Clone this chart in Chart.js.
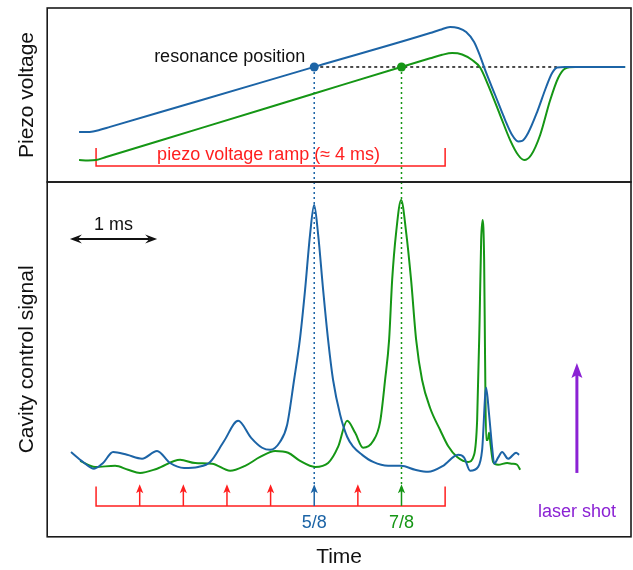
<!DOCTYPE html>
<html>
<head>
<meta charset="utf-8">
<script src="https://cdn.jsdelivr.net/npm/chart.js@4.4.1/dist/chart.umd.min.js"></script>
<style>
  html, body { margin: 0; padding: 0; background: #fff; }
  body { width: 633px; height: 570px; position: relative; overflow: hidden; }
  #top-wrap { position: absolute; left: 0; top: 0; width: 633px; height: 184px; }
  #bottom-wrap { position: absolute; left: 0; top: 180px; width: 633px; height: 390px; }
</style>
</head>
<body>
<div id="top-wrap"><canvas id="piezoChart"></canvas></div>
<div id="bottom-wrap"><canvas id="cavityChart"></canvas></div>
<script>
// time in ms, 0 = start of the piezo ramp
const timeRange = [-0.56, 6.13];
const piezoRange = [0, 10];
const signalRange = [-2, 8];

// piezo voltage (top panel)
const piezoBlueT = [-0.195, -0.115, -0.034, 0.046, 0.160, 1.192, 2.510, 3.828, 3.943, 4.057,
  4.149, 4.241, 4.332, 4.401, 4.458, 4.573, 4.688, 4.768, 4.837, 4.883,
  4.951, 5.054, 5.158, 5.226, 5.284, 5.375, 6.063];
const piezoBlueV = [2.87, 2.87, 2.90, 3.00, 3.17, 4.68, 6.63, 8.56, 8.75, 8.91,
  8.85, 8.62, 8.05, 7.24, 6.44, 5.00, 3.56, 2.70, 2.33, 2.36,
  2.82, 4.02, 5.46, 6.26, 6.58, 6.61, 6.61];
const piezoGreenT = [-0.195, -0.092, 0, 0.115, 1.192, 2.510, 3.496, 3.828, 3.966, 4.080,
  4.195, 4.310, 4.401, 4.493, 4.630, 4.745, 4.837, 4.906, 4.986, 5.089,
  5.204, 5.295, 5.375, 5.490, 6.063];
const piezoGreenV = [1.26, 1.24, 1.26, 1.44, 3.08, 5.10, 6.61, 7.11, 7.31, 7.41,
  7.33, 7.01, 6.58, 5.57, 3.85, 2.41, 1.55, 1.26, 1.55, 2.70,
  4.71, 5.98, 6.52, 6.61, 6.61];

// cavity control signal (bottom panel)
const signalBlueT = [-0.287, -0.149, -0.023, 0.080, 0.195, 0.355, 0.527, 0.699, 0.848, 1.009,
  1.169, 1.307, 1.467, 1.628, 1.777, 1.903, 1.994, 2.109, 2.189, 2.269,
  2.338, 2.395, 2.453, 2.499, 2.544, 2.602, 2.659, 2.716, 2.797, 2.877,
  2.946, 3.049, 3.175, 3.347, 3.496, 3.656, 3.805, 3.977, 4.149, 4.218,
  4.287, 4.378, 4.424, 4.470, 4.504, 4.539, 4.562, 4.607, 4.653, 4.722,
  4.814, 4.848];
const signalBlueS = [0.39, 0.11, -0.08, 0.08, 0.39, 0.31, 0.20, 0.42, 0.08, -0.06,
  -0.03, 0.11, 0.70, 1.27, 0.79, 0.51, 0.45, 0.68, 1.15, 2.42,
  3.61, 4.96, 6.54, 7.35, 6.54, 4.96, 3.55, 2.42, 1.44, 0.82,
  0.54, 0.31, 0.11, 0, 0, -0.11, -0.17, 0, 0.31, 0.23,
  -0.14, -0.03, 0.45, 2.20, 1.44, 0.51, 0.06, 0.23, 0.39, 0.20,
  0.37, 0.31];
const signalGreenT = [-0.183, -0.011, 0.218, 0.367, 0.504, 0.699, 0.963, 1.135, 1.330, 1.536,
  1.708, 1.880, 2.052, 2.201, 2.338, 2.510, 2.659, 2.774, 2.877, 2.969,
  3.060, 3.175, 3.255, 3.312, 3.358, 3.393, 3.439, 3.496, 3.553, 3.610,
  3.668, 3.736, 3.828, 3.943, 4.034, 4.138, 4.264, 4.332, 4.367, 4.395,
  4.413, 4.430, 4.447, 4.458, 4.470, 4.487, 4.504, 4.521, 4.550, 4.607,
  4.711, 4.768, 4.825, 4.860];
const signalGreenS = [0.14, -0.03, 0, -0.11, -0.20, -0.08, 0.17, 0.08, 0.06, -0.14,
  0, 0.25, 0.42, 0.37, 0.14, -0.03, 0.08, 0.54, 1.27, 0.93,
  0.51, 0.70, 1.24, 2.42, 3.55, 5.24, 6.59, 7.49, 6.59, 5.24,
  3.55, 2.42, 1.63, 1.01, 0.56, 0.25, 0.11, 0.31, 1.30, 4.11,
  6.37, 6.93, 5.80, 2.99, 0.73, 0.73, 0.93, 0.59, 0.11, 0.03,
  0.08, 0.06, 0.03, -0.11];

// ramp and markers
const rampStart = 0;
const rampEnd = 4;
const rampMarks = [0.5, 1, 1.5, 2, 2.5, 3, 3.5];
const blueResT = 2.5;   // 5/8 of the ramp
const greenResT = 3.5;  // 7/8 of the ramp
const resLevel = 6.61;
const resLevelEnd = 5.28;
const scaleBar = [-0.3, 0.7];  // 1 ms
const laserT = 5.51;

const BLUE = '#1c64a6';
const GREEN = '#159615';
const RED = '#ff1f1f';
const PURPLE = '#8b22d4';
const INK = '#111';
const FONT = '"Liberation Sans", Arial, sans-serif';

function pts(ts, vs) {
  return ts.map((t, i) => ({ x: t, y: vs[i] }));
}

function strokeLine(ctx, x1, y1, x2, y2) {
  ctx.beginPath();
  ctx.moveTo(x1, y1);
  ctx.lineTo(x2, y2);
  ctx.stroke();
}

// filled head with a small notch, tip at (tx, ty), (dx, dy) points towards the tip
function arrowHead(ctx, tx, ty, dx, dy, len, half, notch, color) {
  const bx = tx - dx * len, by = ty - dy * len;
  const nx = -dy, ny = dx;
  ctx.beginPath();
  ctx.moveTo(tx, ty);
  ctx.lineTo(bx + nx * half, by + ny * half);
  ctx.lineTo(tx - dx * len * (1 - notch), ty - dy * len * (1 - notch));
  ctx.lineTo(bx - nx * half, by - ny * half);
  ctx.closePath();
  ctx.fillStyle = color;
  ctx.fill();
}

function drawFrame(chart) {
  const { ctx, chartArea: a } = chart;
  ctx.save();
  ctx.strokeStyle = '#1a1a1a';
  ctx.lineWidth = 1.6;
  ctx.strokeRect(a.left, a.top, a.right - a.left, a.bottom - a.top);
  ctx.restore();
}

const piezoNotes = {
  id: 'piezoNotes',
  beforeDatasetsDraw(chart) {
    const { ctx, chartArea: area } = chart;
    const x = v => chart.scales.x.getPixelForValue(v);
    const y = v => chart.scales.y.getPixelForValue(v);
    ctx.save();
    ctx.lineWidth = 1.5;
    ctx.setLineDash([3, 3]);
    ctx.strokeStyle = INK;
    strokeLine(ctx, x(blueResT), y(resLevel), x(resLevelEnd), y(resLevel));
    ctx.setLineDash([2, 3]);
    ctx.strokeStyle = BLUE;
    strokeLine(ctx, x(blueResT), y(resLevel), x(blueResT), area.bottom);
    ctx.strokeStyle = GREEN;
    strokeLine(ctx, x(greenResT), y(resLevel), x(greenResT), area.bottom);
    ctx.setLineDash([]);

    // ramp bracket
    ctx.strokeStyle = RED;
    ctx.beginPath();
    ctx.moveTo(x(rampStart), y(1.95));
    ctx.lineTo(x(rampStart), y(0.92));
    ctx.lineTo(x(rampEnd), y(0.92));
    ctx.lineTo(x(rampEnd), y(1.95));
    ctx.stroke();
    ctx.restore();
  },
  afterDatasetsDraw(chart) {
    const { ctx } = chart;
    const x = v => chart.scales.x.getPixelForValue(v);
    const y = v => chart.scales.y.getPixelForValue(v);
    ctx.save();
    ctx.font = '18px ' + FONT;
    ctx.textBaseline = 'alphabetic';
    ctx.fillStyle = INK;
    ctx.textAlign = 'right';
    ctx.fillText('resonance position', x(blueResT) - 9, y(6.90));
    ctx.fillStyle = RED;
    ctx.textAlign = 'center';
    ctx.fillText('piezo voltage ramp (\u2248 4 ms)', x((rampStart + rampEnd) / 2) - 2, y(1.29));
    ctx.restore();
  },
  afterDraw(chart) {
    drawFrame(chart);
  }
};

const cavityNotes = {
  id: 'cavityNotes',
  beforeDatasetsDraw(chart) {
    const { ctx, chartArea: area } = chart;
    const x = v => chart.scales.x.getPixelForValue(v);
    const y = v => chart.scales.y.getPixelForValue(v);
    ctx.save();
    ctx.lineWidth = 1.5;
    ctx.setLineDash([2, 3]);
    ctx.strokeStyle = BLUE;
    strokeLine(ctx, x(blueResT), area.top, x(blueResT), y(-0.52) + 8);
    ctx.strokeStyle = GREEN;
    strokeLine(ctx, x(greenResT), area.top, x(greenResT), y(-0.52) + 8);
    ctx.restore();
  },
  afterDatasetsDraw(chart) {
    const { ctx } = chart;
    const x = v => chart.scales.x.getPixelForValue(v);
    const y = v => chart.scales.y.getPixelForValue(v);
    ctx.save();

    // bracket along the ramp with eighth markers
    const barY = y(-1.13);
    const tipY = y(-0.52);
    ctx.lineWidth = 1.5;
    ctx.strokeStyle = RED;
    ctx.beginPath();
    ctx.moveTo(x(rampStart), y(-0.58));
    ctx.lineTo(x(rampStart), barY);
    ctx.lineTo(x(rampEnd), barY);
    ctx.lineTo(x(rampEnd), y(-0.58));
    ctx.stroke();
    rampMarks.forEach(t => {
      const col = t === blueResT ? BLUE : (t === greenResT ? GREEN : RED);
      ctx.strokeStyle = col;
      strokeLine(ctx, x(t), barY, x(t), tipY + 6);
      arrowHead(ctx, x(t), tipY, 0, -1, 9, 3.6, 0.25, col);
    });

    ctx.font = '18px ' + FONT;
    ctx.textAlign = 'center';
    ctx.textBaseline = 'alphabetic';
    ctx.fillStyle = BLUE;
    ctx.fillText('5/8', x(blueResT), y(-1.75));
    ctx.fillStyle = GREEN;
    ctx.fillText('7/8', x(greenResT), y(-1.75));

    // 1 ms scale bar
    const sy = y(6.39);
    const sx1 = x(scaleBar[0]), sx2 = x(scaleBar[1]);
    ctx.strokeStyle = INK;
    ctx.lineWidth = 2;
    strokeLine(ctx, sx1 + 8, sy, sx2 - 8, sy);
    arrowHead(ctx, sx1, sy, -1, 0, 12, 4.5, 0.35, INK);
    arrowHead(ctx, sx2, sy, 1, 0, 12, 4.5, 0.35, INK);
    ctx.fillStyle = INK;
    ctx.fillText('1 ms', (sx1 + sx2) / 2, y(6.65));

    // laser shot
    const lx = x(laserT);
    ctx.strokeStyle = PURPLE;
    ctx.lineWidth = 3;
    strokeLine(ctx, lx, y(-0.20), lx, y(2.90) + 10);
    arrowHead(ctx, lx, y(2.90), 0, -1, 15, 5.5, 0.2, PURPLE);
    ctx.fillStyle = PURPLE;
    ctx.fillText('laser shot', lx, y(-1.44));

    ctx.restore();
  },
  afterDraw(chart) {
    drawFrame(chart);
  }
};

const lineStyle = {
  pointRadius: 0,
  borderWidth: 2,
  fill: false,
  cubicInterpolationMode: 'monotone',
  borderJoinStyle: 'round'
};

const titleFont = { family: FONT, size: 21 };

new Chart(document.getElementById('piezoChart'), {
  type: 'line',
  data: {
    datasets: [
      { ...lineStyle, label: 'blue', data: pts(piezoBlueT, piezoBlueV), borderColor: BLUE },
      { ...lineStyle, label: 'green', data: pts(piezoGreenT, piezoGreenV), borderColor: GREEN },
      {
        label: 'resonance', data: [{ x: blueResT, y: resLevel }, { x: greenResT, y: resLevel }],
        showLine: false, pointRadius: 4.5, pointBorderWidth: 0,
        pointBackgroundColor: [BLUE, GREEN], borderColor: [BLUE, GREEN]
      }
    ]
  },
  options: {
    responsive: true,
    maintainAspectRatio: false,
    animation: false,
    devicePixelRatio: 1,
    layout: { autoPadding: false, padding: { left: 11, top: 8, right: 2, bottom: 2 } },
    plugins: { legend: { display: false }, tooltip: { enabled: false } },
    scales: {
      x: { type: 'linear', min: timeRange[0], max: timeRange[1], display: false },
      y: {
        min: piezoRange[0], max: piezoRange[1],
        ticks: { display: false },
        grid: { display: false, drawTicks: false },
        border: { display: false },
        title: { display: true, text: 'Piezo voltage', color: INK, font: titleFont, padding: { top: 4, bottom: 7 } }
      }
    }
  },
  plugins: [piezoNotes]
});

new Chart(document.getElementById('cavityChart'), {
  type: 'line',
  data: {
    datasets: [
      { ...lineStyle, label: 'blue', data: pts(signalBlueT, signalBlueS), borderColor: BLUE },
      { ...lineStyle, label: 'green', data: pts(signalGreenT, signalGreenS), borderColor: GREEN }
    ]
  },
  options: {
    responsive: true,
    maintainAspectRatio: false,
    animation: false,
    devicePixelRatio: 1,
    layout: { autoPadding: false, padding: { left: 11, top: 2, right: 2, bottom: 0 } },
    plugins: { legend: { display: false }, tooltip: { enabled: false } },
    scales: {
      x: {
        type: 'linear', min: timeRange[0], max: timeRange[1],
        ticks: { display: false },
        grid: { display: false, drawTicks: false },
        border: { display: false },
        title: { display: true, text: 'Time', color: INK, font: titleFont, padding: { top: 8, bottom: 0 } }
      },
      y: {
        min: signalRange[0], max: signalRange[1],
        ticks: { display: false },
        grid: { display: false, drawTicks: false },
        border: { display: false },
        title: { display: true, text: 'Cavity control signal', color: INK, font: titleFont, padding: { top: 4, bottom: 7 } }
      }
    }
  },
  plugins: [cavityNotes]
});
</script>
</body>
</html>
